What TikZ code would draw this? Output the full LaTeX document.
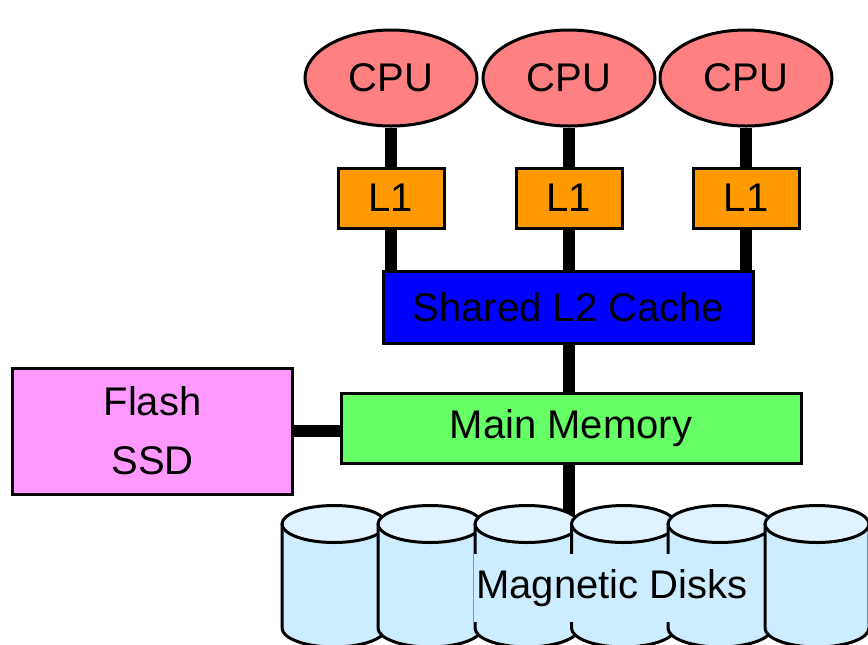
\documentclass[tikz,border=0pt]{standalone}
\usepackage{fontspec}
\setmainfont{Liberation Sans}
\usetikzlibrary{shapes.geometric}

\definecolor{cpucol}{RGB}{255,128,128}
\definecolor{l1col}{RGB}{255,153,0}
\definecolor{l2col}{RGB}{0,0,255}
\definecolor{memcol}{RGB}{102,255,102}
\definecolor{ssdcol}{RGB}{255,153,255}
\definecolor{diskside}{RGB}{204,236,255}
\definecolor{disktop}{RGB}{224,242,255}

\begin{document}
\begin{tikzpicture}[x=0.5pt, y=0.5pt,
    every node/.style={font=\fontsize{20pt}{29.5pt}\selectfont},
    box/.style={draw, line width=1.5pt, inner sep=0},
    bus/.style={line width=6pt}]

    \useasboundingbox (0, 0) rectangle (868, -644);

    % Processors
    \node[box, shape=ellipse, fill=cpucol, minimum width=86pt,
    minimum height=48pt] (cpuA) at (391, -78) {CPU};
    \node[box, shape=ellipse, fill=cpucol, minimum width=86pt,
    minimum height=48pt] (cpuB) at (569, -78) {CPU};
    \node[box, shape=ellipse, fill=cpucol, minimum width=86pt,
    minimum height=48pt] (cpuC) at (746, -78) {CPU};

    % Private caches
    \node[box, fill=l1col, minimum width=53pt, minimum height=30pt]
    (l1A) at (391, -198) {L1};
    \node[box, fill=l1col, minimum width=53pt, minimum height=30pt]
    (l1B) at (569, -198) {L1};
    \node[box, fill=l1col, minimum width=53pt, minimum height=30pt]
    (l1C) at (746, -198) {L1};

    % Shared levels
    \node[box, fill=l2col, minimum width=185pt, minimum height=36pt]
    (l2) at (568.5, -307.5) {Shared L2 Cache};
    \node[box, fill=memcol, minimum width=230pt, minimum height=35pt]
    (mem) at (571, -428.5) {Main Memory};
    \node[box, fill=ssdcol, minimum width=140pt, minimum height=63pt,
    align=center] (ssd) at (152.5, -431) {Flash\\SSD};

    \draw[bus] (cpuA.south) -- (l1A.north);
    \draw[bus] (cpuB.south) -- (l1B.north);
    \draw[bus] (cpuC.south) -- (l1C.north);
    \draw[bus] (l1A.south) -- (l1A.south |- l2.north);
    \draw[bus] (l1B.south) -- (l1B.south |- l2.north);
    \draw[bus] (l1C.south) -- (l1C.south |- l2.north);
    \draw[bus] (l2.south) -- (l2.south |- mem.north);
    \draw[bus] (ssd.east) -- (ssd.east -| mem.west);

    % Disks
    \coordinate (disks) at (569, -520);
    \draw[bus] (mem.south -| disks) -- (disks);
    \foreach \cx in {334, 430, 527, 623.5, 720, 817} {
        \filldraw[line width=1.5pt, fill=diskside] (\cx-52, -524) -- (\cx-52, -628)
            arc[start angle=180, end angle=360, x radius=52, y radius=19]
            -- (\cx+52, -524);
        \filldraw[line width=1.5pt, fill=disktop] (\cx, -524)
            ellipse[x radius=52, y radius=18.5];
    }
    \node[fill=diskside, inner xsep=1pt, minimum height=34pt]
    (disklabel) at (612, -588) {Magnetic Disks};

\end{tikzpicture}
\end{document}
